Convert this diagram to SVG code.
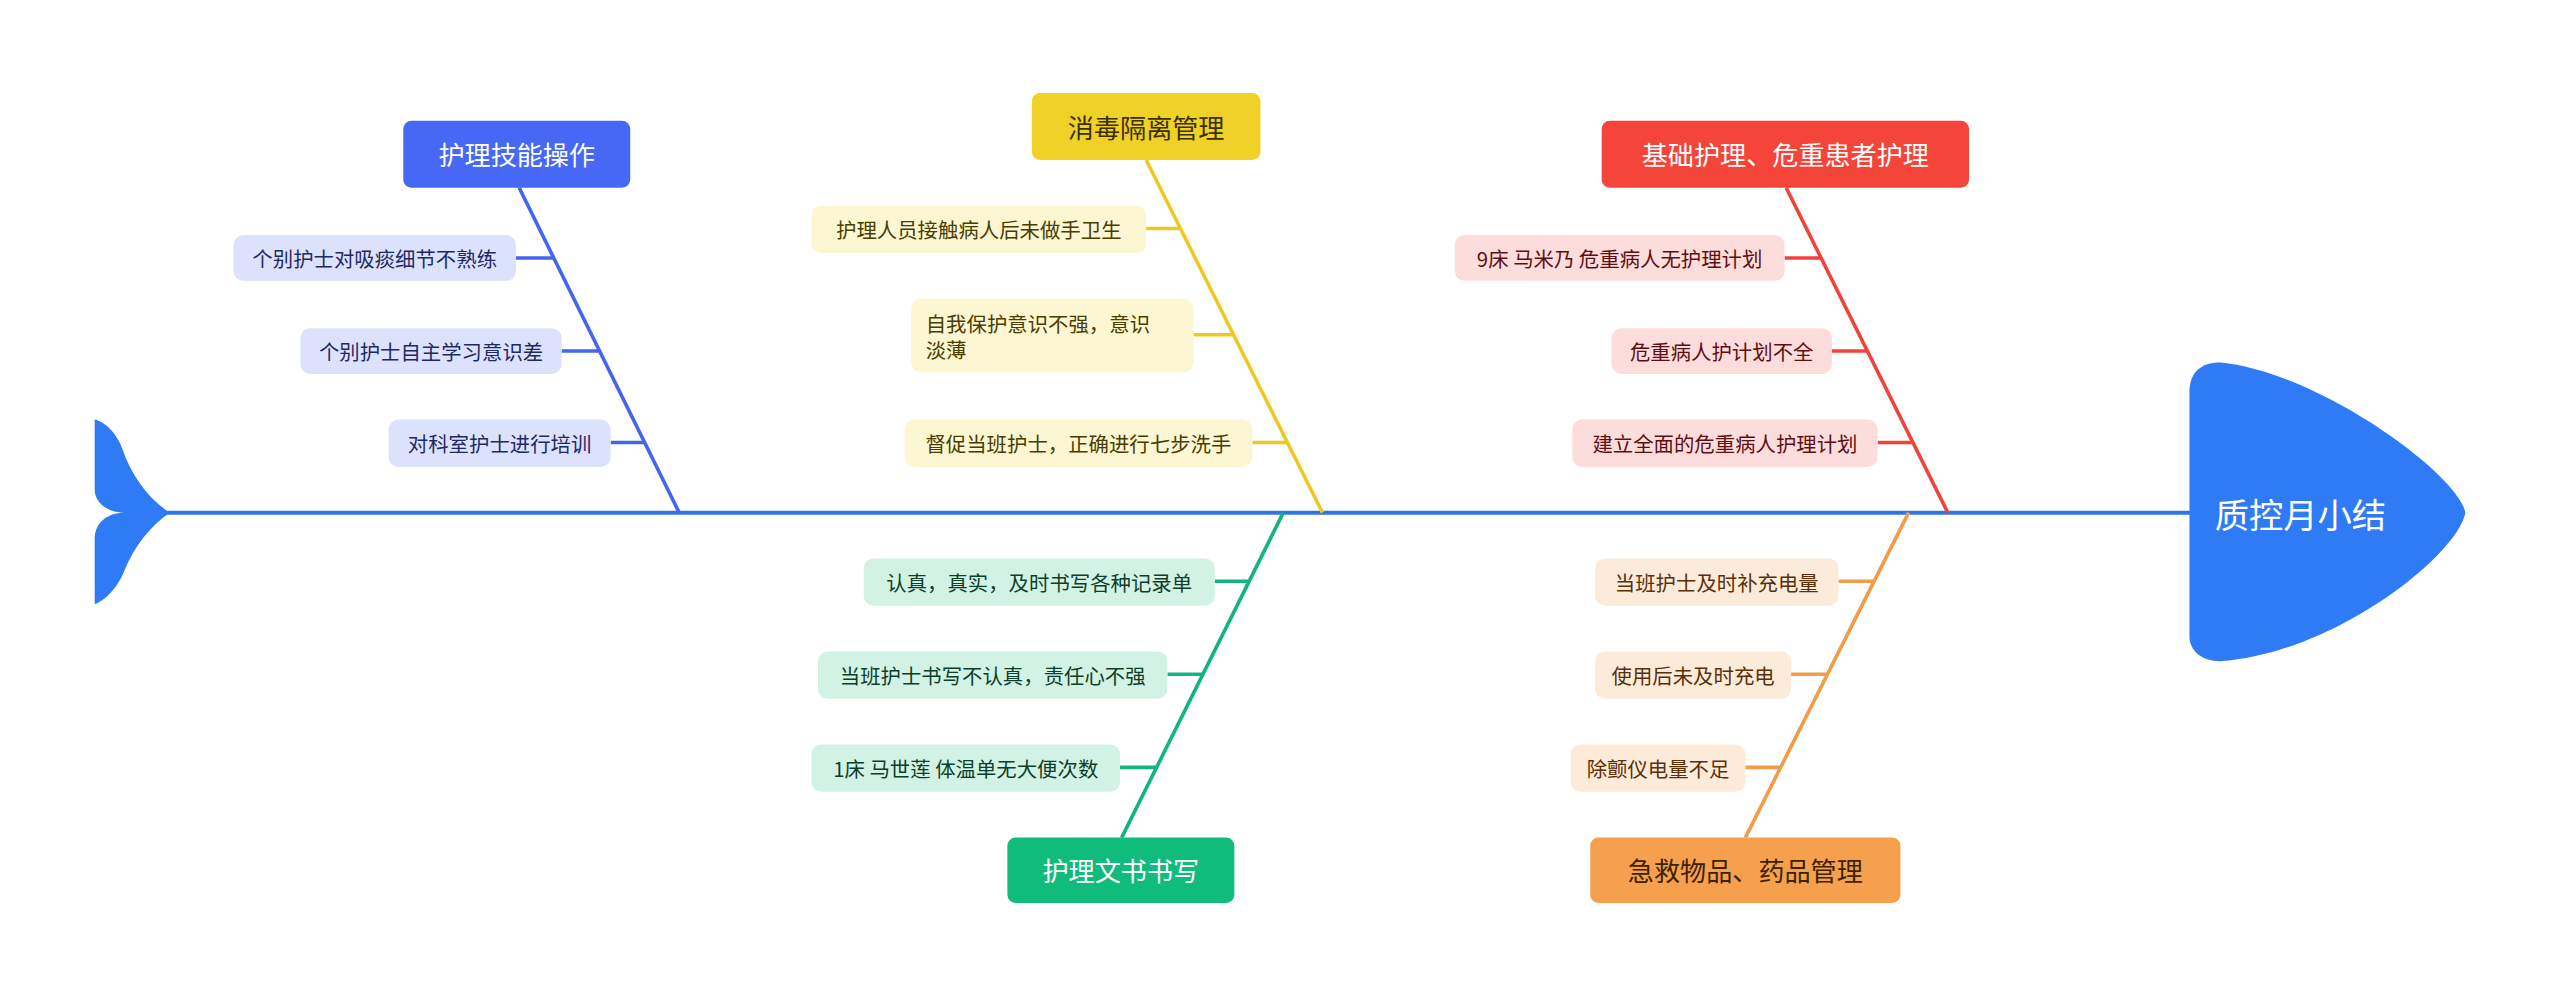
<svg xmlns="http://www.w3.org/2000/svg" width="2560" height="998" viewBox="0 0 2560 998">
<style>
text{font-family:"Noto Sans CJK SC","Noto Sans",sans-serif;dominant-baseline:central;text-anchor:middle}
.m{font-size:16px;fill:#fff}
.c{font-size:12.5px}
.bl{stroke:#4466EE;stroke-width:2.2;fill:none}
.yl{stroke:#EBCB1F;stroke-width:2.2;fill:none}
.rd{stroke:#F04438;stroke-width:2.2;fill:none}
.gr{stroke:#12B57A;stroke-width:2.2;fill:none}
.or{stroke:#F29B48;stroke-width:2.2;fill:none}
</style>
<rect width="2560" height="998" fill="#fff"/>
<g transform="scale(1.6327)">
<g id="connectors">
<line x1="100" y1="314" x2="1345" y2="314" stroke="#2F73E8" stroke-width="2.5"/>
<path class="bl" d="M318 115 L416 314 M316 158 H339 M344 215 H367 M374 271 H395"/>
<path class="yl" d="M702 98 L810 314 M702 140 H723 M731 205 H755 M767 271 H788"/>
<path class="rd" d="M1094 115 L1193 314 M1093 158 H1115 M1122 215 H1144 M1150 271 H1172"/>
<path class="gr" d="M786 314 L687 513 M744 356 H765 M715 413 H737 M686 470 H708"/>
<path class="or" d="M1169 314 L1069 513 M1126 356 H1148 M1097 413 H1119 M1069 470 H1091"/>
</g>
<g id="tail"><path fill="#2F7BF6" d="M104 314 C90 305 80 290 75 275 C70 262 62 258 58 257 L58 300 C58 308 66 314 76 314 C66 314 58 320 58 330 L58 370 C64 368 72 360 76 350 C82 335 92 322 104 314 Z"/></g>
<g id="head"><path fill="#2F7BF6" d="M1341 240 C1341 228 1348 222 1360 222 C1420 228 1505 290 1510 314 C1505 340 1430 400 1360 405 C1348 405 1341 398 1341 390 Z"/><text x="1409" y="314" font-size="21" fill="#fff">质控月小结</text></g>

<g id="n-blue"><rect x="247" y="74" width="139" height="41" rx="5" fill="#4668F5"/><text class="m" x="316.5" y="94.5">护理技能操作</text></g>
<g id="b1"><rect x="143" y="144" width="173" height="28" rx="6" fill="#DCE2FB"/><text class="c" x="229.5" y="158" fill="#1E2A66">个别护士对吸痰细节不熟练</text></g>
<g id="b2"><rect x="184" y="201" width="160" height="28" rx="6" fill="#DCE2FB"/><text class="c" x="264" y="215" fill="#1E2A66">个别护士自主学习意识差</text></g>
<g id="b3"><rect x="238" y="257" width="136" height="29" rx="6" fill="#DCE2FB"/><text class="c" x="306" y="271.5" fill="#1E2A66">对科室护士进行培训</text></g>

<g id="n-yellow"><rect x="632" y="57" width="140" height="41" rx="5" fill="#F0D127"/><text class="m" x="702" y="77.5" fill="#3a3000" style="fill:#3a3000">消毒隔离管理</text></g>
<g id="y1"><rect x="497" y="126" width="205" height="29" rx="6" fill="#FDF6D3"/><text class="c" x="599.5" y="140.5" fill="#4a3d00">护理人员接触病人后未做手卫生</text></g>
<g id="y2"><rect x="558" y="183" width="173" height="45" rx="6" fill="#FDF6D3"/><text class="c" x="567" y="198" fill="#4a3d00" style="text-anchor:start">自我保护意识不强，意识</text><text class="c" x="567" y="214" fill="#4a3d00" style="text-anchor:start">淡薄</text></g>
<g id="y3"><rect x="554" y="257" width="213" height="29" rx="6" fill="#FDF6D3"/><text class="c" x="660.5" y="271.5" fill="#4a3d00">督促当班护士，正确进行七步洗手</text></g>

<g id="n-red"><rect x="981" y="74" width="225" height="41" rx="5" fill="#F5443A"/><text class="m" x="1093.5" y="94.5">基础护理、危重患者护理</text></g>
<g id="r1"><rect x="891" y="144" width="202" height="28" rx="6" fill="#FDDCDC"/><text class="c" x="992" y="158" fill="#5e1010">9床 马米乃 危重病人无护理计划</text></g>
<g id="r2"><rect x="987" y="201" width="135" height="28" rx="6" fill="#FDDCDC"/><text class="c" x="1054.5" y="215" fill="#5e1010">危重病人护计划不全</text></g>
<g id="r3"><rect x="963" y="257" width="187" height="29" rx="6" fill="#FDDCDC"/><text class="c" x="1056.5" y="271.5" fill="#5e1010">建立全面的危重病人护理计划</text></g>

<g id="n-green"><rect x="617" y="513" width="139" height="40" rx="5" fill="#10BC7C"/><text class="m" x="686.5" y="533">护理文书书写</text></g>
<g id="g1"><rect x="529" y="342" width="215" height="29" rx="6" fill="#D2F2E5"/><text class="c" x="636.5" y="356.5" fill="#0c3f2a">认真，真实，及时书写各种记录单</text></g>
<g id="g2"><rect x="501" y="399" width="214" height="29" rx="6" fill="#D2F2E5"/><text class="c" x="608" y="413.5" fill="#0c3f2a">当班护士书写不认真，责任心不强</text></g>
<g id="g3"><rect x="497" y="456" width="189" height="29" rx="6" fill="#D2F2E5"/><text class="c" x="591.5" y="470.5" fill="#0c3f2a">1床 马世莲 体温单无大便次数</text></g>

<g id="n-orange"><rect x="974" y="513" width="190" height="40" rx="5" fill="#F5A04D"/><text class="m" x="1069" y="533" style="fill:#3d2200">急救物品、药品管理</text></g>
<g id="o1"><rect x="977" y="342" width="149" height="29" rx="6" fill="#FDEBDA"/><text class="c" x="1051.5" y="356.5" fill="#5a300a">当班护士及时补充电量</text></g>
<g id="o2"><rect x="977" y="399" width="120" height="29" rx="6" fill="#FDEBDA"/><text class="c" x="1037" y="413.5" fill="#5a300a">使用后未及时充电</text></g>
<g id="o3"><rect x="962" y="456" width="107" height="29" rx="6" fill="#FDEBDA"/><text class="c" x="1015.5" y="470.5" fill="#5a300a">除颤仪电量不足</text></g>
</g>
</svg>
